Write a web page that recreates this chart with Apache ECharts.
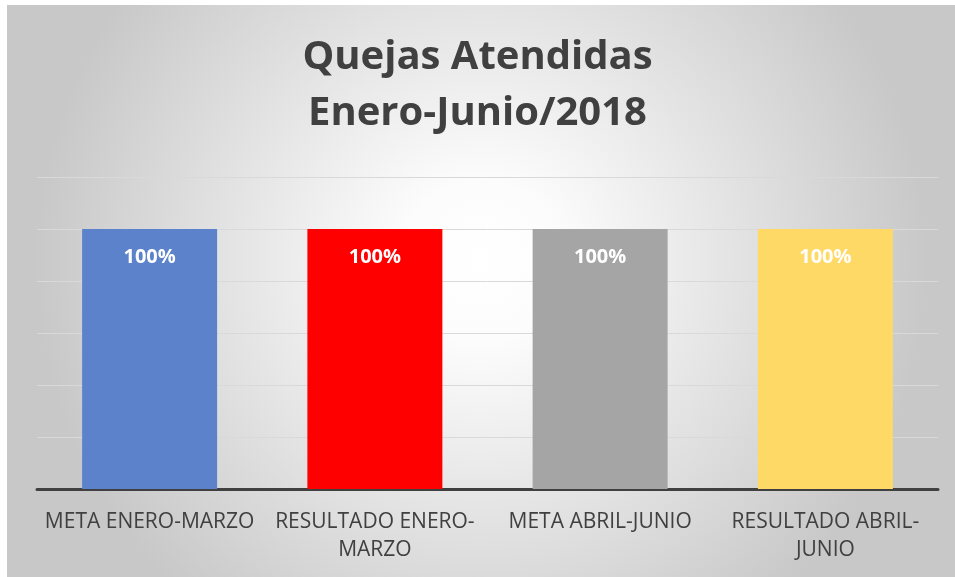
<!DOCTYPE html>
<html>
<head>
<meta charset="utf-8">
<script src="https://cdn.jsdelivr.net/npm/echarts@6/dist/echarts.min.js"></script>
<style>
html, body { margin: 0; padding: 0; background: #fff; }
#chart { width: 955px; height: 577px; }
</style>
</head>
<body>
<div id="chart"></div>
<script>
var categories = ['META ENERO-MARZO', 'RESULTADO ENERO-\nMARZO', 'META ABRIL-JUNIO', 'RESULTADO ABRIL-\nJUNIO']
var values = [1, 1, 1, 1]
var barColors = ['#5b82cb', '#ff0000', '#a5a5a5', '#ffd966']

var chart = echarts.init(document.getElementById('chart'), null, {renderer: 'canvas'})

var option = {
    animation: false,
    graphic: [{
        type: 'rect',
        z: -10,
        shape: {x: 7, y: 5, width: 948, height: 572},
        style: {
            fill: new echarts.graphic.RadialGradient(0.5, 0.45, 0.78, [
                {offset: 0, color: '#ffffff'},
                {offset: 0.18, color: '#fcfcfc'},
                {offset: 1, color: '#c8c8c8'}
            ])
        }
    }],
    title: {
        text: 'Quejas Atendidas\nEnero-Junio/2018',
        left: 'center',
        top: 25,
        textStyle: {
            fontFamily: 'Open Sans',
            fontWeight: 'bold',
            fontSize: 40,
            lineHeight: 56,
            color: '#404040'
        }
    },
    grid: {left: 37, right: 17, top: 177, bottom: 88},
    xAxis: {
        type: 'category',
        data: categories,
        axisLine: {lineStyle: {color: '#404040', width: 3}},
        axisTick: {show: false},
        axisLabel: {
            interval: 0,
            margin: 19,
            fontFamily: 'Open Sans',
            fontSize: 21,
            lineHeight: 28,
            color: '#404040'
        }
    },
    yAxis: {
        type: 'value',
        min: 0,
        max: 1.2,
        interval: 0.2,
        axisLabel: {show: false},
        axisLine: {show: false},
        axisTick: {show: false},
        splitLine: {lineStyle: {color: '#d9d9d9', width: 1}}
    },
    series: [{
        type: 'bar',
        barWidth: 135,
        data: values.map(function (v, i) {
            return {value: v, itemStyle: {color: barColors[i]}}
        }),
        label: {
            show: true,
            position: 'insideTop',
            distance: 18,
            formatter: function (p) { return Math.round(p.value * 100) + '%' },
            fontFamily: 'Open Sans',
            fontWeight: 'bold',
            fontSize: 20,
            color: '#ffffff'
        }
    }]
}
chart.setOption(option)
</script>
</body>
</html>
